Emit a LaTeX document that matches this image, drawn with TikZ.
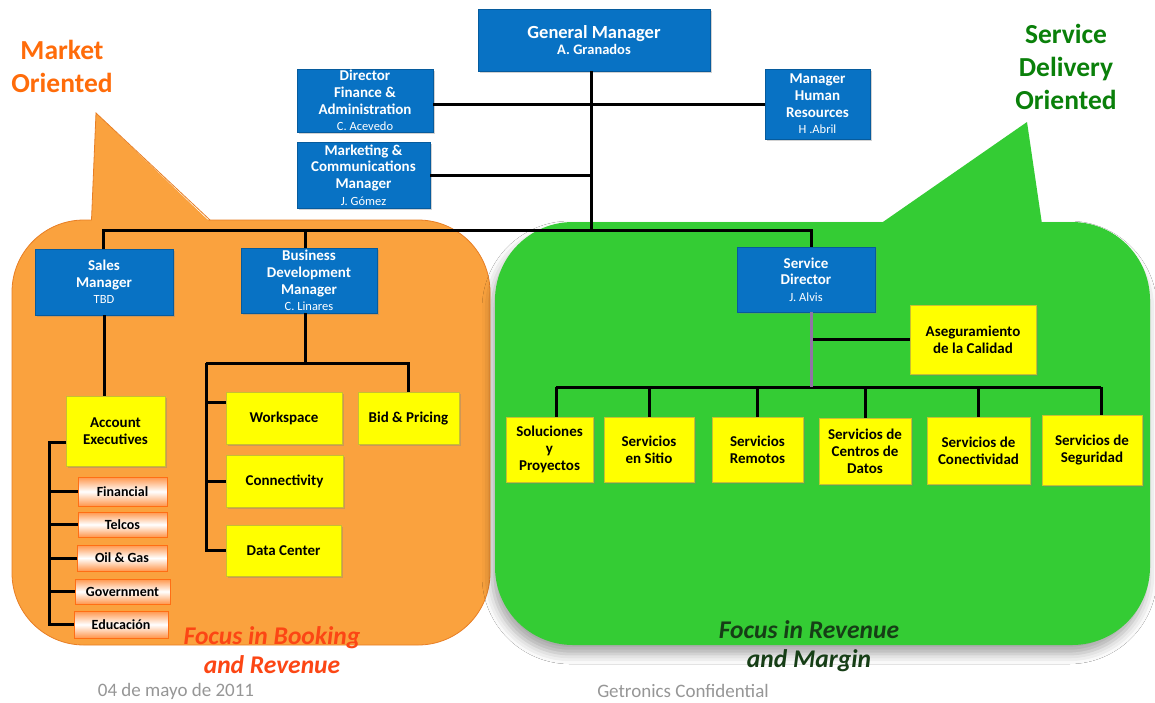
\documentclass[tikz,border=0pt]{standalone}
\usepackage{fontspec}
\setmainfont{Carlito}
\usetikzlibrary{shadows,shadows.blur}

\definecolor{boxblue}{RGB}{8,114,196}
\definecolor{boxyellow}{RGB}{255,255,0}
\definecolor{bubbleorange}{RGB}{250,162,62}
\definecolor{orangeedge}{RGB}{232,126,36}
\definecolor{bubblegreen}{RGB}{52,204,52}
\definecolor{tagedge}{RGB}{255,110,20}
\definecolor{tagfill}{RGB}{255,150,75}
\definecolor{marketorange}{RGB}{255,108,10}
\definecolor{servicegreen}{RGB}{10,128,10}
\definecolor{focusred}{RGB}{252,70,20}
\definecolor{focusgreen}{RGB}{22,62,22}
\definecolor{footgray}{RGB}{150,150,150}
\definecolor{linkpurple}{RGB}{145,115,165}

\newcommand{\who}[1]{{\fontsize{12.5}{14}\selectfont\mdseries #1}}

\tikzset{
  x=1pt, y=-1pt,
  box/.style={inner sep=1pt, outer sep=0pt, align=center,
    drop shadow={shadow xshift=1.5pt, shadow yshift=-2pt, opacity=0.35}},
  bluebox/.style={box, fill=boxblue, draw=boxblue!80!black, line width=0.4pt,
    text=white, font=\fontsize{15}{16.6}\selectfont\bfseries},
  yellowbox/.style={box, fill=boxyellow, draw=yellow!75!black, line width=0.4pt,
    text=black, font=\fontsize{15}{17}\selectfont\bfseries},
  tagbox/.style={inner sep=0pt, outer sep=0pt, draw=tagedge, line width=0.9pt,
    top color=tagfill, bottom color=tagfill, middle color=white,
    text=black, font=\fontsize{14}{16}\selectfont\bfseries},
  conn/.style={draw=black, line width=3pt},
  softconn/.style={draw=linkpurple, line width=3pt},
  bigtitle/.style={align=center, font=\fontsize{27.5}{33}\selectfont\bfseries},
  focus/.style={align=center, font=\fontsize{25.5}{29}\selectfont\bfseries\itshape},
  foot/.style={text=footgray, font=\fontsize{19}{21}\selectfont},
}

\begin{document}
\begin{tikzpicture}
\useasboundingbox (0,0) rectangle (1155,702);
\fill[white] (0,0) rectangle (1155,702);

% ---- market bubble (orange) ----
\filldraw[fill=bubbleorange, draw=orangeedge, line width=0.8pt, rounded corners=72pt]
  (12,220) rectangle (490,645);
\fill[bubbleorange] (91.5,222) -- (96,113) -- (210,222) -- cycle;
\draw[orangeedge, line width=0.8pt] (91.5,220) -- (96,113) -- (210,220);

% ---- service bubble (green) ----
\fill[bubblegreen, rounded corners=78pt,
  blur shadow={shadow xshift=-3pt, shadow yshift=-9pt, shadow blur radius=10pt, shadow opacity=35}]
  (495,222) rectangle (1150,645);
\fill[bubblegreen] (880,224) -- (1027,122) -- (1042,224) -- cycle;

% ---- headings ----
\node[bigtitle, text=marketorange] (mktTitle) at (62,66) {Market\\Oriented};
\node[bigtitle, text=servicegreen] (svcTitle) at (1066,67) {Service\\Delivery\\Oriented};

% ---- management ----
\node[bluebox, minimum width=232pt, minimum height=62pt] (gm) at (594,40)
  {{\fontsize{18.5}{20}\selectfont General Manager}\\{\fontsize{14.5}{16}\selectfont A. Granados}};
\node[bluebox, minimum width=136pt, minimum height=63pt] (fin) at (365,100.5)
  {Director\\Finance \&\\Administration\\\who{C. Acevedo}};
\node[bluebox, minimum width=133pt, minimum height=66pt] (mkt) at (363.5,175)
  {Marketing \&\\Communications\\Manager\\\who{J. Gómez}};
\node[bluebox, minimum width=105pt, minimum height=70pt] (hr) at (817.5,104)
  {Manager\\Human\\Resources\\\who{H .Abril}};

\node[bluebox, minimum width=138pt, minimum height=66pt] (sales) at (104,282)
  {Sales\\Manager\\\who{TBD}};
\node[bluebox, minimum width=136pt, minimum height=65pt] (bdm) at (309,280.5)
  {Business\\Development\\Manager\\\who{C. Linares}};
\node[bluebox, minimum width=138pt, minimum height=65pt] (sd) at (806,279.5)
  {Service\\Director\\\who{J. Alvis}};

% ---- sales branch ----
\node[yellowbox, minimum width=99pt, minimum height=70pt] (ae) at (115.5,431) {Account\\Executives};
\node[tagbox, minimum width=89pt, minimum height=29pt] (tFin) at (122.5,491.5) {Financial};
\node[tagbox, minimum width=89pt, minimum height=25pt] (tTel) at (122.5,524.5) {Telcos};
\node[tagbox, minimum width=90pt, minimum height=26pt] (tOil) at (122,558) {Oil \& Gas};
\node[tagbox, minimum width=95pt, minimum height=25pt] (tGov) at (122.5,591.5) {Government};
\node[tagbox, minimum width=94pt, minimum height=27pt] (tEdu) at (121,624.5) {Educación};

% ---- business development branch ----
\node[yellowbox, minimum width=116pt, minimum height=52pt] (ws) at (284,418) {Workspace};
\node[yellowbox, minimum width=101pt, minimum height=52pt] (bid) at (408.5,418) {Bid \& Pricing};
\node[yellowbox, minimum width=117pt, minimum height=52pt] (cnx) at (284.5,481) {Connectivity};
\node[yellowbox, minimum width=115pt, minimum height=51pt] (dc) at (283.5,550.5) {Data Center};

% ---- service branch ----
\node[yellowbox, minimum width=126pt, minimum height=69pt] (qa) at (973,339.5) {Aseguramiento\\de la Calidad};
\node[yellowbox, minimum width=87pt, minimum height=65pt] (sol) at (549.5,449.5) {Soluciones\\y\\Proyectos};
\node[yellowbox, minimum width=90pt, minimum height=65pt] (sit) at (649,449.5) {Servicios\\en Sitio};
\node[yellowbox, minimum width=91pt, minimum height=65pt] (rem) at (757.5,449.5) {Servicios\\Remotos};
\node[yellowbox, minimum width=92pt, minimum height=66pt] (cdd) at (865,451) {Servicios de\\Centros de\\Datos};
\node[yellowbox, minimum width=103pt, minimum height=67pt] (csv) at (978.5,450.5) {Servicios de\\Conectividad};
\node[yellowbox, minimum width=100pt, minimum height=70pt] (seg) at (1092,450) {Servicios de\\Seguridad};

% ---- connectors ----
\coordinate (trunk) at (591,230);
\coordinate (busL) at (103,230);
\coordinate (busM) at (305,230);
\coordinate (busR) at (811,230);
\draw[conn] (gm.south -| trunk) -- (trunk);
\draw[conn] (fin.east |- hr.west) -- (hr.west);
\draw[conn] (mkt.east) -- (mkt.east -| trunk);
\draw[conn] (sales.north -| busL) -- (busL) -- (busR) -- (busR |- sd.north);
\draw[conn] (busM) -- (busM |- bdm.north);

\draw[conn] (sales.south) -- (sales.south |- ae.north);
\coordinate (aeSpine) at (49,442);
\draw[conn] (ae.west |- aeSpine) -- (aeSpine) -- (aeSpine |- tEdu.west) -- (tEdu.west);
\foreach \t in {tFin,tTel,tOil,tGov}
  \draw[conn] (aeSpine |- \t.west) -- (\t.west);

\coordinate (bdJoin) at (305,363);
\coordinate (bdLeft) at (206,363);
\coordinate (wsPort) at ([yshift=16pt]ws.west);
\draw[conn] (bdm.south -| bdJoin) -- (bdJoin);
\draw[conn] (bdLeft) -- (bdLeft -| bid.north) -- (bid.north);
\draw[conn] (bdLeft) -- (bdLeft |- dc.west) -- (dc.west);
\draw[conn] (bdLeft |- cnx.west) -- (cnx.west);
\draw[conn] (bdLeft |- wsPort) -- (wsPort);

\coordinate (sdJoin) at (811,387);
\coordinate (svL) at (556,387);
\coordinate (svR) at (1101,387);
\draw[conn] (sdJoin |- qa.west) -- (qa.west);
\draw[conn] (svL) -- (svR);
\draw[softconn] (sd.south -| sdJoin) -- (sdJoin);
\draw[conn] (svL) -- (svL |- sol.north);
\draw[conn] (sit.north |- svL) -- (sit.north);
\draw[conn] (rem.north |- svL) -- (rem.north);
\draw[conn] (cdd.north |- svL) -- (cdd.north);
\draw[conn] (csv.north |- svL) -- (csv.north);
\draw[conn] (svR) -- (svR |- seg.north);

% ---- focus statements ----
\node[focus, text=focusred] (focusA) at (272,650) {Focus in Booking\\and Revenue};
\node[focus, text=focusgreen] (focusB) at (809,646) {Focus in Revenue\\and Margin};

% ---- footer ----
\node[foot] (date) at (176,691) {04 de mayo de 2011};
\node[foot] (conf) at (683,691) {Getronics Confidential};
\end{tikzpicture}
\end{document}
